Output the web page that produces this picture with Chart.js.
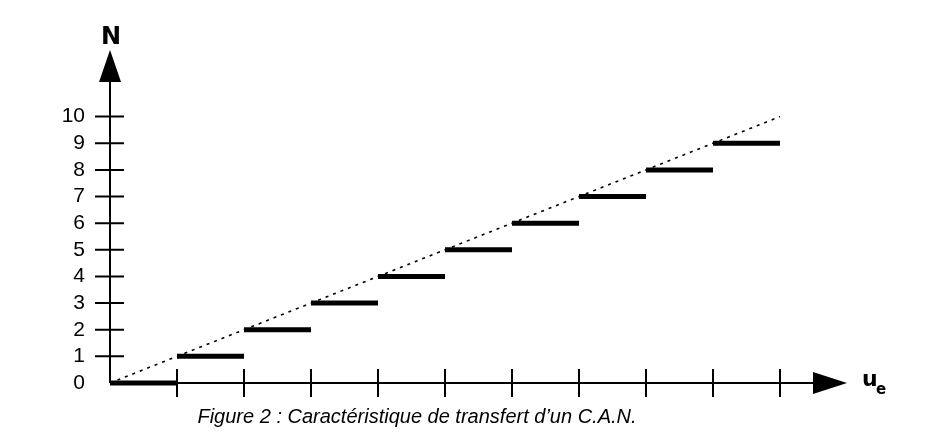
<!DOCTYPE html>
<html>
<head>
<meta charset="utf-8">
<script src="https://cdn.jsdelivr.net/npm/chart.js@4/dist/chart.umd.min.js"></script>
<style>
  html, body { margin: 0; padding: 0; background: #fff; }
  #wrap { width: 925px; height: 446px; }
</style>
</head>
<body>
<div id="wrap"><canvas id="myChart" width="925" height="446"></canvas></div>
<script>
// step levels of the converter: code N held between u = k and u = k+1
var stepStart = [0, 1, 2, 3, 4, 5, 6, 7, 8, 9];
var stepLevel = [0, 1, 2, 3, 4, 5, 6, 7, 8, 9];
// ideal straight characteristic
var idealX = [0, 10];
var idealY = [0, 10];
var yTicks = [0, 1, 2, 3, 4, 5, 6, 7, 8, 9, 10];
var xTicks = [1, 2, 3, 4, 5, 6, 7, 8, 9, 10];
var caption = "Figure 2 : Caractéristique de transfert d\u2019un C.A.N.";

var stepData = [];
for (var i = 0; i < stepStart.length; i++) {
  stepData.push({x: stepStart[i], y: stepLevel[i]});
  stepData.push({x: stepStart[i] + 1, y: stepLevel[i]});
  stepData.push({x: stepStart[i] + 1, y: null});
}
var idealData = [];
for (var j = 0; j < idealX.length; j++) idealData.push({x: idealX[j], y: idealY[j]});

// axes with arrows, crossing ticks, axis names and caption
var axesPlugin = {
  id: 'axes',
  beforeDatasetsDraw: function(chart) {
    var c = chart.ctx, xs = chart.scales.x, ys = chart.scales.y;
    var x0 = xs.getPixelForValue(0), y0 = ys.getPixelForValue(0);
    var top = ys.getPixelForValue(ys.max), right = xs.getPixelForValue(xs.max);
    c.save();
    c.strokeStyle = '#000'; c.fillStyle = '#000'; c.lineWidth = 2;
    c.beginPath();
    c.moveTo(x0, y0); c.lineTo(x0, top + 32);
    c.moveTo(x0, y0); c.lineTo(right - 34, y0);
    for (var i = 0; i < yTicks.length; i++) {
      if (yTicks[i] == 0) continue;
      var py = ys.getPixelForValue(yTicks[i]);
      c.moveTo(x0 - 15, py); c.lineTo(x0 + 14, py);
    }
    for (var k = 0; k < xTicks.length; k++) {
      var px = xs.getPixelForValue(xTicks[k]);
      c.moveTo(px, y0 - 14); c.lineTo(px, y0 + 14);
    }
    c.stroke();
    // arrow heads
    c.beginPath();
    c.moveTo(x0, top); c.lineTo(x0 - 11, top + 32); c.lineTo(x0 + 11, top + 32); c.closePath();
    c.fill();
    c.beginPath();
    c.moveTo(right, y0); c.lineTo(right - 34, y0 - 11); c.lineTo(right - 34, y0 + 11); c.closePath();
    c.fill();
    // axis names
    c.font = 'bold 24px "DejaVu Sans"';
    c.textAlign = 'center'; c.textBaseline = 'alphabetic';
    c.fillText('N', x0 + 1, top - 6);
    c.textAlign = 'left';
    c.font = 'bold 22px "DejaVu Sans"';
    c.fillText('u', right + 15, y0 + 3);
    c.font = 'bold 15px "DejaVu Sans"';
    c.fillText('e', right + 29, y0 + 11);
    // caption
    c.font = 'italic 20px "Liberation Sans"';
    c.textAlign = 'center'; c.textBaseline = 'middle';
    c.fillText(caption, 417, 417);
    c.restore();
  }
};

var ctx = document.getElementById("myChart").getContext("2d");
var myChart = new Chart(ctx, {
  type: 'line',
  data: {
    datasets: [
      {
        label: 'ideal',
        data: idealData,
        borderColor: '#000',
        borderWidth: 1.6,
        borderDash: [3, 5],
        pointRadius: 0,
        fill: false
      },
      {
        label: 'N',
        data: stepData,
        borderColor: '#000',
        borderWidth: 5,
        borderCapStyle: 'butt',
        pointRadius: 0,
        spanGaps: false,
        clip: false,
        fill: false
      }
    ]
  },
  options: {
    responsive: false,
    animation: false,
    layout: { padding: { top: 50, right: 78, bottom: 0, left: 0 } },
    plugins: { legend: { display: false }, tooltip: { enabled: false } },
    scales: {
      x: {
        type: 'linear', min: 0, max: 11,
        grid: { display: false }, border: { display: false },
        ticks: { display: false },
        afterFit: function(s) { s.height = 63; }
      },
      y: {
        type: 'linear', min: 0, max: 12.5,
        grid: { display: false, drawTicks: false }, border: { display: false },
        afterBuildTicks: function(s) { s.ticks = yTicks.map(function(v) { return {value: v}; }); },
        ticks: { color: '#000', padding: 25, font: { family: 'Liberation Sans', size: 21 } },
        afterFit: function(s) { s.width = 110; }
      }
    }
  },
  plugins: [axesPlugin]
});
</script>
</body>
</html>
